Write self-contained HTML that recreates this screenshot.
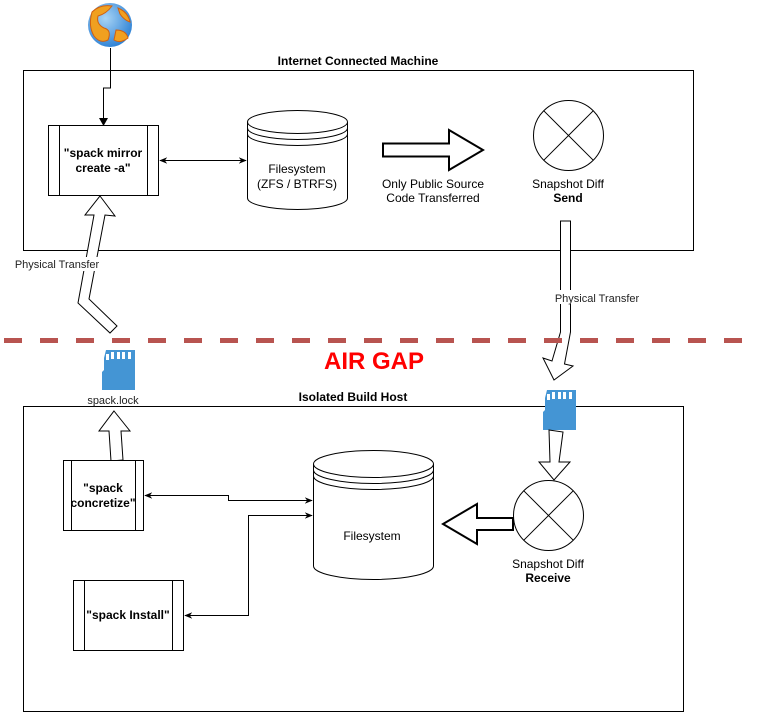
<!DOCTYPE html>
<html><head><meta charset="utf-8"><style>
html,body{margin:0;padding:0;background:#fff;}
svg{display:block;font-family:"Liberation Sans",Arial,sans-serif;}
</style></head><body>
<svg width="758" height="712" viewBox="0 0 758 712" xmlns="http://www.w3.org/2000/svg">
<defs>
<marker id="ah" viewBox="0 0 10 10" refX="9" refY="5" markerWidth="8" markerHeight="8" orient="auto-start-reverse"><path d="M0,1 L10,5 L0,9 L3,5 Z" fill="#000"/></marker>
<radialGradient id="gl" cx="0.4" cy="0.35" r="0.7"><stop offset="0" stop-color="#a8d4f5"/><stop offset="1" stop-color="#2a7fd4"/></radialGradient>
</defs>
<!-- globe -->
<circle cx="110" cy="25" r="22" fill="url(#gl)"/>
<path d="M92,12 Q100,4 112,6 Q106,14 98,16 Q96,24 104,28 Q112,30 108,40 Q100,44 94,36 Q88,26 92,12Z" fill="#f0a020" stroke="#d06010" stroke-width="1"/>
<path d="M118,8 Q128,12 130,22 Q124,20 120,14Z M116,30 Q126,30 128,38 Q120,44 114,40Z" fill="#f0a020" stroke="#d06010" stroke-width="1"/>
<!-- globe connector -->
<polyline points="110.5,48 110.5,88 103.5,88 103.5,122" fill="none" stroke="#000"/>
<path d="M99,118 L103.5,126 L108,118 Z" fill="#000"/>
<!-- top container -->
<text x="358" y="65" font-size="12" font-weight="bold" text-anchor="middle">Internet Connected Machine</text>
<rect x="23.5" y="70.5" width="670" height="180" fill="none" stroke="#000"/>
<!-- spack mirror -->
<rect x="48.5" y="125.5" width="110" height="70" fill="#fff" stroke="#000"/>
<line x1="59.5" y1="125.5" x2="59.5" y2="195.5" stroke="#000"/>
<line x1="147.5" y1="125.5" x2="147.5" y2="195.5" stroke="#000"/>
<text x="103" y="157" font-size="12" font-weight="bold" text-anchor="middle">"spack mirror</text>
<text x="103" y="172" font-size="12" font-weight="bold" text-anchor="middle">create -a"</text>
<line x1="160" y1="160.5" x2="246" y2="160.5" stroke="#000" marker-start="url(#ah)" marker-end="url(#ah)"/>
<!-- cylinder 1 -->
<path d="M247.5,122 A50,11.5 0 0 1 347.5,122 L347.5,198 A50,11.5 0 0 1 247.5,198 Z" fill="#fff" stroke="#000"/>
<path d="M247.5,122 A50,11.5 0 0 0 347.5,122 M247.5,122 L247.5,128 A50,11.5 0 0 0 347.5,128 L347.5,122 M247.5,128 L247.5,134 A50,11.5 0 0 0 347.5,134" fill="none" stroke="#000"/>
<text x="297" y="173" font-size="12" text-anchor="middle">Filesystem</text>
<text x="297" y="188" font-size="12" text-anchor="middle">(ZFS / BTRFS)</text>
<!-- block arrow right -->
<path d="M383,143.5 L449,143.5 L449,130 L483,150 L449,170 L449,156.5 L383,156.5 Z" fill="#fff" stroke="#000" stroke-width="2"/>
<text x="433" y="188" font-size="12" text-anchor="middle">Only Public Source</text>
<text x="433" y="202" font-size="12" text-anchor="middle">Code Transferred</text>
<!-- circle send -->
<circle cx="568.5" cy="135.5" r="35" fill="#fff" stroke="#000"/>
<line x1="543.8" y1="110.8" x2="593.2" y2="160.2" stroke="#000"/>
<line x1="593.2" y1="110.8" x2="543.8" y2="160.2" stroke="#000"/>
<text x="568" y="188" font-size="12" text-anchor="middle">Snapshot Diff</text>
<text x="568" y="202" font-size="12" font-weight="bold" text-anchor="middle">Send</text>
<!-- right physical transfer arrow -->
<path d="M560.5,221 L570.5,221 L570.5,332 L564.5,364 L573,366 L554,380 L543,358 L552,361 L560.5,332 Z" fill="#fff" stroke="#000"/>
<rect x="555" y="290" width="86" height="14" fill="#fff"/>
<text x="597" y="302" font-size="11" text-anchor="middle" fill="#222">Physical Transfer</text>
<!-- left physical transfer arrow -->
<path d="M100,196 L115,216 L105,215 L89,299 L117,326 L110,333 L78,303 L94,215 L85,215 Z" fill="#fff" stroke="#000"/>
<rect x="14" y="257" width="87" height="14" fill="#fff"/>
<text x="57" y="268" font-size="11" text-anchor="middle" fill="#222">Physical Transfer</text>
<!-- air gap -->
<line x1="4" y1="340.5" x2="742" y2="340.5" stroke="#b85450" stroke-width="5" stroke-dasharray="18,18"/>
<text x="374" y="369" font-size="24" font-weight="bold" fill="#ff0000" text-anchor="middle">AIR GAP</text>
<!-- sd card left -->
<path d="M106,350 L135,350 L135,390 L102,390 L102,372 L104,370 L104,358 Z" fill="#4495d4"/>
<rect x="106" y="354" width="3" height="6" fill="#fff"/><rect x="111" y="352" width="3" height="7" fill="#fff"/><rect x="117" y="352" width="3" height="7" fill="#fff"/><rect x="122" y="352" width="3" height="7" fill="#fff"/><rect x="128" y="352" width="3" height="7" fill="#fff"/>
<rect x="87" y="393" width="53" height="14" fill="#fff"/>
<text x="113" y="404" font-size="11" text-anchor="middle" fill="#222">spack.lock</text>
<!-- bottom container -->
<text x="353" y="401" font-size="12" font-weight="bold" text-anchor="middle">Isolated Build Host</text>
<rect x="23.5" y="406.5" width="660" height="305" fill="none" stroke="#000"/>
<rect x="87" y="393" width="53" height="12" fill="#fff"/>
<text x="113" y="404" font-size="11" text-anchor="middle" fill="#222">spack.lock</text>
<!-- sd card right -->
<path d="M547,390 L576,390 L576,430 L543,430 L543,412 L545,410 L545,398 Z" fill="#4495d4"/>
<rect x="547" y="394" width="3" height="6" fill="#fff"/><rect x="552" y="392" width="3" height="7" fill="#fff"/><rect x="558" y="392" width="3" height="7" fill="#fff"/><rect x="563" y="392" width="3" height="7" fill="#fff"/><rect x="569" y="392" width="3" height="7" fill="#fff"/>
<!-- arrow sd to receive -->
<path d="M549,430 L563,432 L559,462 L570,462 L554,480 L539,462 L550,462 Z" fill="#fff" stroke="#000"/>
<!-- arrow up to spack.lock -->
<path d="M114,411 L130,431 L121,431 L123,460 L111,461 L109,431 L99,431 Z" fill="#fff" stroke="#000"/>
<!-- concretize -->
<rect x="63.5" y="460.5" width="80" height="70" fill="#fff" stroke="#000"/>
<line x1="71.5" y1="460.5" x2="71.5" y2="530.5" stroke="#000"/>
<line x1="135.5" y1="460.5" x2="135.5" y2="530.5" stroke="#000"/>
<text x="103" y="492" font-size="12" font-weight="bold" text-anchor="middle">"spack</text>
<text x="103" y="507" font-size="12" font-weight="bold" text-anchor="middle">concretize"</text>
<!-- install -->
<rect x="73.5" y="580.5" width="110" height="70" fill="#fff" stroke="#000"/>
<line x1="84.5" y1="580.5" x2="84.5" y2="650.5" stroke="#000"/>
<line x1="172.5" y1="580.5" x2="172.5" y2="650.5" stroke="#000"/>
<text x="128" y="619" font-size="12" font-weight="bold" text-anchor="middle">"spack Install"</text>
<!-- connectors -->
<polyline points="145,495.5 228.5,495.5 228.5,500.5 312,500.5" fill="none" stroke="#000" marker-start="url(#ah)" marker-end="url(#ah)"/>
<polyline points="185,615.5 248.5,615.5 248.5,515.5 312,515.5" fill="none" stroke="#000" marker-start="url(#ah)" marker-end="url(#ah)"/>
<!-- cylinder 2 -->
<path d="M313.5,464 A60,13.5 0 0 1 433.5,464 L433.5,566 A60,13.5 0 0 1 313.5,566 Z" fill="#fff" stroke="#000"/>
<path d="M313.5,464 A60,13.5 0 0 0 433.5,464 M313.5,464 L313.5,470 A60,13.5 0 0 0 433.5,470 L433.5,464 M313.5,470 L313.5,476 A60,13.5 0 0 0 433.5,476" fill="none" stroke="#000"/>
<text x="372" y="540" font-size="12" text-anchor="middle">Filesystem</text>
<!-- block arrow left -->
<path d="M513,518 L477,518 L477,504 L443,524 L477,544 L477,530 L513,530 Z" fill="#fff" stroke="#000" stroke-width="2"/>
<!-- circle receive -->
<circle cx="548.5" cy="515.5" r="35" fill="#fff" stroke="#000"/>
<line x1="523.8" y1="490.8" x2="573.2" y2="540.2" stroke="#000"/>
<line x1="573.2" y1="490.8" x2="523.8" y2="540.2" stroke="#000"/>
<text x="548" y="568" font-size="12" text-anchor="middle">Snapshot Diff</text>
<text x="548" y="582" font-size="12" font-weight="bold" text-anchor="middle">Receive</text>
</svg>
</body></html>
